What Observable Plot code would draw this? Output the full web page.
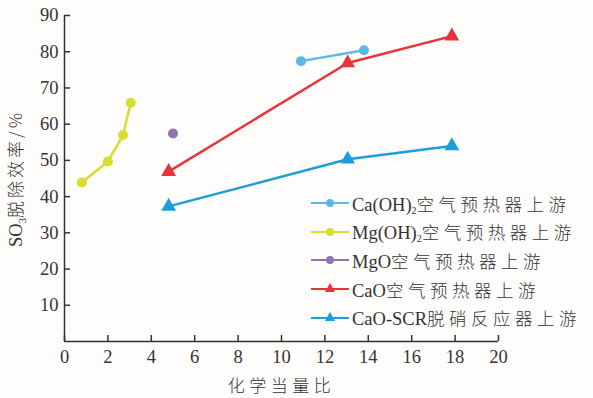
<!DOCTYPE html>
<html><head><meta charset="utf-8">
<script src="https://cdn.jsdelivr.net/npm/d3@7"></script>
<script src="https://cdn.jsdelivr.net/npm/@observablehq/plot@0.6"></script>
<style>
body{margin:0;background:#fff}
#c{position:relative;width:593px;height:398px;background:#fefdfc}
#legend{position:absolute;left:311px;top:189px;font-family:"Liberation Serif",serif;font-size:18.5px;color:#333}
.row{display:flex;align-items:center;height:28.6px;white-space:nowrap}
.row svg{margin-right:3px}
.cjk{letter-spacing:4.5px;font-family:"Noto Sans CJK SC",sans-serif;font-weight:300;font-size:17.5px}
sub{font-size:10px;vertical-align:-3px;line-height:0}
svg text{font-family:"Liberation Serif",serif !important;font-variant:normal !important}
svg text.cjklab{font-family:"Noto Sans CJK SC",sans-serif !important;font-weight:300;font-size:17px;letter-spacing:4.5px}
svg tspan.cj{font-family:"Noto Sans CJK SC",sans-serif;font-weight:300;font-size:17px;letter-spacing:3px}
</style></head>
<body><div id="c"><div id="legend"></div></div>
<script>
const seriesNames = ["Ca(OH)2空气预热器上游","Mg(OH)2空气预热器上游","MgO空气预热器上游","CaO空气预热器上游","CaO-SCR脱硝反应器上游"];
const seriesLatin = ["Ca(OH)","Mg(OH)","MgO","CaO","CaO-SCR"];
const seriesSub = ["2","2","","",""];
const seriesCjk = ["空气预热器上游","空气预热器上游","空气预热器上游","空气预热器上游","脱硝反应器上游"];
const seriesColors = ["#5bb9e6","#d6dd2c","#9272ab","#e8333c","#1b9fd8"];
const seriesSymbols = ["circle","circle","circle","triangle","triangle"];

const caohX = [10.9, 13.8];
const caohY = [77.4, 80.4];
const mgohX = [0.8, 2.0, 2.7, 3.05];
const mgohY = [43.9, 49.7, 57.0, 65.9];
const mgoX = [5.0];
const mgoY = [57.4];
const caoX = [4.8, 13.05, 17.85];
const caoY = [46.9, 76.9, 84.3];
const scrX = [4.8, 13.05, 17.85];
const scrY = [37.3, 50.3, 54.0];

const xTicks = [0,2,4,6,8,10,12,14,16,18,20];
const yTicks = [10,20,30,40,50,60,70,80,90];

const allX = [caohX, mgohX, mgoX, caoX, scrX];
const allY = [caohY, mgohY, mgoY, caoY, scrY];
const rows = [];
allX.forEach((xs, i) => xs.forEach((x, j) => rows.push({s: i, x, y: allY[i][j]})));

const font = "Liberation Serif, serif";
const marks = [
  Plot.ruleX([0], {stroke: "#333", strokeWidth: 1.5}),
  Plot.ruleY([0], {stroke: "#333", strokeWidth: 1.5}),
  Plot.axisX(xTicks, {tickSize: -6, tickPadding: 14, stroke: "#333", strokeWidth: 1.5, fill: "#333", fontFamily: font,
    label: "化学当量比", labelArrow: "none", labelAnchor: "center", labelOffset: 50, fontSize: 18.5}),
  Plot.axisY(yTicks, {tickSize: -6, tickPadding: 12, stroke: "#333", strokeWidth: 1.5, fill: "#333", fontFamily: font,
    label: "SO3脱除效率/%", labelArrow: "none", labelAnchor: "center", labelOffset: 56, fontSize: 18.5}),
];
seriesNames.forEach((name, i) => {
  const d = rows.filter(r => r.s === i);
  marks.push(Plot.line(d, {x: "x", y: "y", stroke: seriesColors[i], strokeWidth: 2.5}));
  marks.push(Plot.dot(d, {x: "x", y: "y", fill: seriesColors[i], symbol: seriesSymbols[i], r: seriesSymbols[i] === "circle" ? 5 : 5.5}));
});

const chart = Plot.plot({
  width: 593, height: 398,
  marginLeft: 64, marginRight: 95, marginTop: 15, marginBottom: 57,
  x: {domain: [0, 20]},
  y: {domain: [0, 90]},
  style: {fontFamily: font, fontSize: "18px", color: "#333", background: "transparent"},
  marks
});
document.getElementById("c").prepend(chart);

const svg = d3.select(chart);
svg.selectAll("text").filter(function(){ return this.textContent === "化学当量比"; }).attr("class", "cjklab");
svg.selectAll("text").filter(function(){ return this.textContent === "SO3脱除效率/%"; }).each(function(){
  const t = d3.select(this);
  t.text(null);
  t.append("tspan").text("SO");
  t.append("tspan").style("font-size", "11px").attr("dy", 4).text("3");
  t.append("tspan").attr("class", "cj").attr("dy", -4).text("脱除效率/%");
});

const leg = d3.select("#legend");
seriesNames.forEach((name, i) => {
  const row = leg.append("div").attr("class", "row");
  const s = row.append("svg").attr("width", 38).attr("height", 14);
  s.append("line").attr("x1", 0).attr("x2", 38).attr("y1", 7).attr("y2", 7).attr("stroke", seriesColors[i]).attr("stroke-width", 2);
  if (seriesSymbols[i] === "circle") s.append("circle").attr("cx", 19).attr("cy", 7).attr("r", 4).attr("fill", seriesColors[i]);
  else s.append("path").attr("d", d3.symbol(d3.symbolTriangle, 45)()).attr("transform", "translate(19,7)").attr("fill", seriesColors[i]);
  const lab = row.append("span");
  lab.append("span").text(seriesLatin[i]);
  if (seriesSub[i]) lab.append("sub").text(seriesSub[i]);
  lab.append("span").attr("class", "cjk").text(seriesCjk[i]);
});
</script></body></html>
